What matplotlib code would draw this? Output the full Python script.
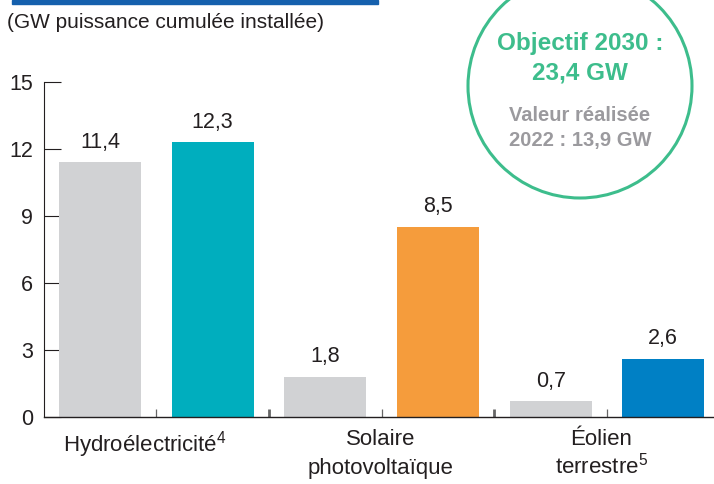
import matplotlib
matplotlib.use("Agg")
import matplotlib.pyplot as plt
from matplotlib.patches import Ellipse, Rectangle

categories = ["Hydroélectricité$^{4}$", "Solaire\nphotovoltaïque", "Éolien\nterrestre$^{5}$"]
values_2022 = [11.4, 1.8, 0.7]
values_2030 = [12.3, 8.5, 2.6]
value_labels_2022 = ["11,4", "1,8", "0,7"]
value_labels_2030 = ["12,3", "8,5", "2,6"]
yticks = [0, 3, 6, 9, 12, 15]
subtitle = "(GW puissance cumulée installée)"
circle_title = "Objectif 2030 :\n23,4 GW"
circle_sub = "Valeur réalisée\n2022 : 13,9 GW"

gray = "#d1d2d4"
colors_2030 = ["#00aebe", "#f59c3c", "#0080c5"]
dark = "#231f20"
green = "#3dbd8c"
gray_txt = "#9b9a9e"

plt.rcParams['font.family'] = ['Liberation Sans', 'DejaVu Sans']
plt.rcParams['mathtext.fontset'] = 'custom'
plt.rcParams['mathtext.rm'] = 'Liberation Sans'
plt.rcParams['mathtext.it'] = 'Liberation Sans'
plt.rcParams['mathtext.bf'] = 'Liberation Sans:bold'

W, H = 714, 484
fig = plt.figure(figsize=(W / 100, H / 100), dpi=100)

# axes: left 44px, right 714px, bottom 417px, top 82px
ax = fig.add_axes([44 / W, (H - 417) / H, (714 - 44) / W, (417 - 82) / H])
ax.set_ylim(0, 15)
ax.set_xlim(-0.497, 5.45)

width = 0.728
for i in range(3):
    x0 = 2 * i
    x1 = 2 * i + 1
    ax.bar(x0, values_2022[i], width=width, color=gray, zorder=2)
    ax.bar(x1, values_2030[i], width=width, color=colors_2030[i], zorder=2)
    ax.annotate(value_labels_2022[i], (x0, values_2022[i]), xytext=(0, 7),
                textcoords="offset points", ha="center", va="bottom",
                fontsize=15.5, color=dark)
    ax.annotate(value_labels_2030[i], (x1, values_2030[i]), xytext=(0, 7),
                textcoords="offset points", ha="center", va="bottom",
                fontsize=15.5, color=dark)

for s in ["top", "right"]:
    ax.spines[s].set_visible(False)
ax.spines["left"].set_color(dark)
ax.spines["left"].set_linewidth(0.8)
ax.spines["bottom"].set_color(dark)
ax.spines["bottom"].set_linewidth(1.0)

ax.set_yticks(yticks)
ax.set_yticklabels([str(t) for t in yticks])
ax.tick_params(axis="y", direction="in", length=12, width=0.8, color=dark,
               labelsize=15.5, labelcolor=dark, pad=8)

# bottom ticks between bars
ax.set_xticks([0.5, 1.5, 2.5, 3.5, 4.5])
ax.set_xticklabels([])
ax.tick_params(axis="x", direction="in", length=6, width=0.9, color="#666666")
xt = ax.xaxis.get_major_ticks()
for idx in (1, 3):
    xt[idx].tick1line.set_markeredgewidth(2.0)
    xt[idx].tick1line.set_color(dark)

# category labels
label_x = [0.40, 2.49, 4.45]
label_ls = [1.5, 1.5, 1.12]
for lx, lab, ls in zip(label_x, categories, label_ls):
    ax.text(lx, -0.55, lab, ha="center", va="top", fontsize=16, color=dark,
            linespacing=ls, transform=ax.transData)

# subtitle
fig.text(7 / W, 1 - 22 / H, subtitle, ha="left", va="center", fontsize=15,
         color=dark)

# top blue band
fig.patches.append(Rectangle((12 / W, 1 - 4 / H), (378 - 12) / W, 4 / H,
                             transform=fig.transFigure, color="#1560ad",
                             zorder=5))

# circle
cx, cy, r = 580, 86, 112
fig.patches.append(Ellipse((cx / W, 1 - cy / H), 2 * r / W, 2 * r / H,
                           transform=fig.transFigure, fill=False,
                           edgecolor=green, linewidth=2.2))
fig.text(cx / W, 1 - 58.5 / H, circle_title, ha="center", va="center",
         fontsize=17.5, fontweight="bold", color=green, linespacing=1.35)
fig.text(cx / W, 1 - 128 / H, circle_sub, ha="center", va="center",
         fontsize=14.5, fontweight="bold", color=gray_txt, linespacing=1.45)

fig.savefig("out.png", dpi=100)
